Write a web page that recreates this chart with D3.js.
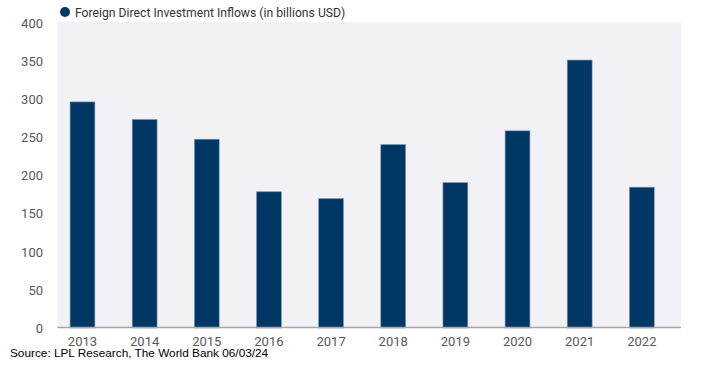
<!DOCTYPE html>
<html>
<head>
<meta charset="utf-8">
<script src="https://cdn.jsdelivr.net/npm/d3@7"></script>
<style>
  body { margin: 0; background: #fff; }
  text { font-family: Roboto, "Open Sans", sans-serif; }
</style>
</head>
<body>
<div id="chart"></div>
<script>
// values
const years = ["2013", "2014", "2015", "2016", "2017", "2018", "2019", "2020", "2021", "2022"];
const inflows = [297, 274, 248, 179, 170, 241, 191, 259, 352, 185];
const yTicks = [0, 50, 100, 150, 200, 250, 300, 350, 400];
const seriesName = "Foreign Direct Investment Inflows (in billions USD)";
const sourceNote = "Source: LPL Research, The World Bank 06/03/24";

const W = 706, H = 366;
const navy = "#003764";

const svg = d3.select("#chart")
    .append("svg")
    .attr("width", W)
    .attr("height", H);

// plot panel
const panel = {left: 57.5, right: 681, top: 22, bottom: 328};
svg.append("rect")
    .attr("x", panel.left)
    .attr("y", panel.top)
    .attr("width", panel.right - panel.left)
    .attr("height", panel.bottom - panel.top)
    .attr("fill", "#f1f1f6");

const x = d3.scaleBand()
    .domain(years)
    .range([51.4, 672.9])
    .paddingInner(0.6)
    .paddingOuter(0.3);

const y = d3.scaleLinear()
    .domain([0, 400])
    .range([328, 23.5]);

// bars
svg.append("g")
    .selectAll("rect")
    .data(years)
    .join("rect")
      .attr("x", d => x(d))
      .attr("y", (d, i) => y(inflows[i]))
      .attr("width", x.bandwidth())
      .attr("height", (d, i) => y(0) - y(inflows[i]))
      .attr("fill", navy)
      .attr("stroke", "#7f9cba")
      .attr("stroke-width", 0.6);

// baseline
svg.append("line")
    .attr("x1", panel.left)
    .attr("x2", panel.right)
    .attr("y1", y(0) - 0.5)
    .attr("y2", y(0) - 0.5)
    .attr("stroke", "#a6a6a6")
    .attr("stroke-width", 1.3);

// Y axis labels
const yAxis = svg.append("g")
    .attr("transform", `translate(43, 0)`)
    .call(d3.axisLeft(y).tickValues(yTicks).tickSize(0).tickPadding(0));
yAxis.select(".domain").remove();
yAxis.selectAll("text")
    .attr("fill", "#595959")
    .style("font-size", "13px");

// X axis labels
const xAxis = svg.append("g")
    .attr("transform", `translate(0, ${y(0)})`)
    .call(d3.axisBottom(x).tickSize(0).tickPadding(9));
xAxis.select(".domain").remove();
xAxis.selectAll("text")
    .attr("fill", "#595959")
    .style("font-size", "13px");

// legend
svg.append("circle")
    .attr("cx", 65)
    .attr("cy", 12)
    .attr("r", 5)
    .attr("fill", navy);
svg.append("text")
    .attr("x", 75)
    .attr("y", 17)
    .attr("fill", "#333")
    .style("font-size", "12.2px")
    .text(seriesName);

// source note
svg.append("text")
    .attr("x", 10)
    .attr("y", 357)
    .attr("fill", "#000")
    .style("font-family", "'Liberation Sans', Arial, sans-serif")
    .style("font-size", "11.8px")
    .text(sourceNote);
</script>
</body>
</html>
